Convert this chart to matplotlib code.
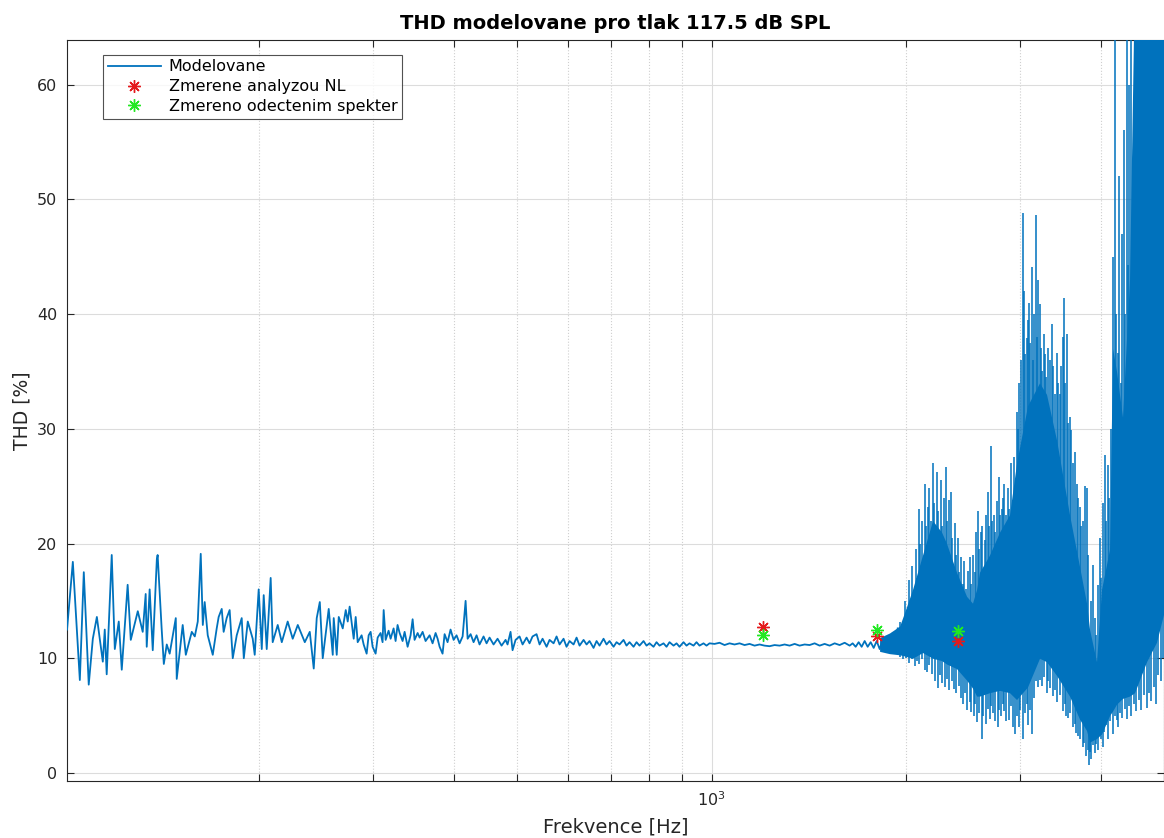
import numpy as np
import matplotlib
matplotlib.use('Agg')
import matplotlib.pyplot as plt
from matplotlib.ticker import NullFormatter, LogLocator

# modelovany prubeh THD, nizke a stredni frekvence
freq = [101.0, 103.1, 105.7, 107.2, 109.1, 110.7, 112.3, 114.7, 115.5, 116.3,
        118.4, 119.7, 121.4, 122.7, 125.3, 126.7, 129.9, 132.2, 133.6, 134.1,
        135.5, 137.0, 139.0, 139.4, 141.4, 142.5, 144.0, 145.5, 148.7, 149.2,
        152.4, 154.1, 157.4, 159.1, 160.8, 162.5, 163.7, 164.8, 166.6, 169.6,
        172.0, 173.2, 175.1, 176.3, 178.2, 180.1, 182.1, 184.7, 188.0, 189.4,
        192.1, 195.5, 196.9, 199.7, 201.9, 203.3, 205.5, 208.4, 209.9, 213.7,
        216.8, 221.4, 225.4, 229.5, 235.3, 239.5, 242.9, 245.5, 248.2, 250.8,
        254.4, 256.2, 259.9, 260.8, 263.6, 265.5, 269.3, 272.2, 274.1, 276.0,
        280.0, 282.0, 284.0, 288.0, 290.1, 293.2, 295.3, 297.4, 299.5, 302.7,
        304.9, 308.1, 310.3, 311.5, 313.7, 317.0, 319.3, 322.7, 325.0, 327.3,
        329.7, 333.2, 335.6, 339.2, 342.8, 345.3, 347.7, 351.5, 354.0, 357.8,
        361.6, 366.8, 370.7, 374.7, 377.4, 380.1, 384.1, 386.9, 391.0, 395.2,
        399.5, 403.7, 408.1, 412.5, 416.9, 419.9, 424.4, 428.9, 433.5, 438.1,
        444.4, 449.2, 454.0, 460.5, 467.1, 473.8, 480.6, 484.0, 489.2, 492.7,
        498.0, 505.1, 510.6, 517.9, 523.4, 529.0, 536.6, 542.4, 548.2, 556.1,
        562.0, 570.1, 576.2, 582.4, 590.7, 597.0, 603.4, 612.1, 618.7, 625.3,
        634.3, 641.1, 647.9, 657.2, 664.3, 671.4, 681.0, 688.3, 695.7, 705.7,
        713.2, 720.9, 731.2, 739.0, 747.0, 757.7, 765.8, 774.0, 785.1, 793.5,
        802.0, 813.5, 822.2, 831.1, 843.0, 852.0, 861.1, 873.5, 882.9, 892.3,
        905.1, 914.8, 924.6, 937.9, 947.9, 958.1, 971.8, 982.3, 992.8, 1010.7,
        1028.9, 1047.3, 1066.1, 1085.2, 1104.8, 1124.6, 1144.8, 1165.3, 1186.3, 1207.5,
        1229.3, 1251.3, 1273.9, 1296.7, 1320.0, 1343.8, 1367.8, 1392.4, 1417.4, 1442.8,
        1468.8, 1495.1, 1522.0, 1549.3, 1577.1, 1605.5, 1634.3, 1651.9, 1669.6, 1687.5,
        1705.6, 1723.9, 1742.5, 1761.2, 1780.2, 1799.3, 1818.6, 1838.2, 1857.9, 1871.2,
        1891.3, 1904.8, 1925.3, 1939.1]
thd = [12.5, 18.4, 8.1, 17.5, 7.7, 11.7, 13.6, 9.7, 12.5, 8.6,
       19.0, 10.8, 13.2, 9.0, 16.4, 11.6, 14.1, 12.3, 15.6, 11.0,
       16.0, 10.7, 18.6, 19.0, 12.6, 9.5, 11.2, 10.4, 13.5, 8.2,
       12.9, 10.3, 12.3, 11.9, 13.2, 19.1, 12.9, 14.9, 12.0, 10.3,
       12.6, 13.6, 14.3, 12.3, 13.5, 14.2, 10.0, 12.0, 13.5, 10.0,
       13.2, 11.7, 10.3, 16.0, 10.8, 15.5, 10.8, 17.0, 11.4, 12.9,
       11.4, 13.2, 11.7, 12.9, 11.4, 12.3, 9.1, 13.5, 14.9, 10.0,
       12.9, 14.3, 10.3, 13.5, 10.3, 13.6, 12.6, 14.2, 13.2, 14.5,
       11.7, 13.6, 11.4, 12.0, 11.2, 10.4, 12.0, 12.3, 11.0, 10.4,
       11.8, 12.2, 11.4, 14.2, 11.6, 12.4, 11.7, 12.6, 11.5, 12.9,
       12.2, 11.5, 12.3, 11.0, 12.0, 13.4, 11.6, 12.2, 11.8, 12.3,
       11.5, 12.0, 11.3, 12.2, 11.7, 11.0, 10.4, 12.1, 11.4, 12.5,
       11.6, 12.0, 11.3, 11.9, 15.0, 11.7, 12.1, 11.4, 12.0, 11.2,
       11.9, 11.3, 11.8, 11.2, 11.7, 11.1, 11.6, 11.2, 12.3, 10.7,
       11.6, 11.9, 11.2, 11.8, 11.3, 11.9, 12.1, 11.2, 11.7, 11.0,
       11.6, 11.3, 11.9, 11.2, 11.7, 11.0, 11.5, 11.2, 11.8, 11.1,
       11.6, 11.2, 11.5, 10.9, 11.5, 11.1, 11.7, 11.2, 11.5, 11.0,
       11.4, 11.2, 11.6, 11.1, 11.4, 11.0, 11.4, 11.1, 11.5, 11.1,
       11.3, 11.0, 11.4, 11.1, 11.3, 11.0, 11.4, 11.1, 11.3, 11.0,
       11.4, 11.1, 11.3, 11.1, 11.4, 11.1, 11.3, 11.1, 11.3, 11.25,
       11.35, 11.15, 11.3, 11.2, 11.3, 11.15, 11.25, 11.1, 11.2, 11.1,
       11.05, 11.15, 11.1, 11.2, 11.1, 11.25, 11.1, 11.2, 11.15, 11.3,
       11.1, 11.25, 11.1, 11.3, 11.15, 11.35, 11.1, 11.3, 11.0, 11.4,
       11.0, 11.5, 11.0, 11.4, 10.9, 11.5, 10.8, 11.6, 10.8, 11.9,
       10.6, 12.2, 10.5, 12.6]

# husta oblast nad 1.8 kHz - obalka plne casti
core_f = [1818, 1883, 1952, 1987, 2044, 2118, 2195, 2266, 2307, 2390,
          2477, 2530, 2567, 2594, 2688, 2786, 2886, 2959, 3077, 3211,
          3292, 3412, 3573, 3702, 3796, 3837, 3933, 4004, 4119, 4164,
          4223, 4314, 4423, 4503, 4699, 4869, 5000]
core_lo = [10.6, 10.4, 10.3, 10.2, 10.0, 10.5, 10.0, 9.8, 9.5, 9.1,
           8.1, 7.4, 6.7, 6.7, 7.0, 7.2, 7.0, 6.4, 7.5, 10.0,
           9.7, 8.5, 6.7, 4.7, 3.7, 2.7, 3.0, 3.4, 5.0, 5.4,
           6.0, 6.5, 6.7, 7.0, 9.7, 11.4, 14.0]
core_hi = [11.8, 12.2, 12.8, 14.0, 16.0, 19.0, 22.0, 21.0, 20.0, 17.5,
           15.4, 14.8, 16.0, 17.5, 19.0, 21.0, 22.5, 27.0, 32.0, 34.0,
           33.0, 29.0, 22.5, 18.0, 14.8, 12.5, 9.7, 16.0, 19.5, 37.0,
           35.0, 31.0, 43.0, 70, 70, 70, 70]

# spicky nahoru
up_f = [1952, 1975, 1990, 2005, 2020, 2037, 2050, 2066, 2080, 2088,
        2100, 2115, 2133, 2145, 2156, 2170, 2182, 2195, 2210, 2226,
        2240, 2258, 2270, 2285, 2299, 2312, 2326, 2340, 2355, 2374,
        2385, 2399, 2415, 2430, 2445, 2459, 2475, 2490, 2504, 2520,
        2535, 2550, 2562, 2576, 2590, 2605, 2620, 2641, 2655, 2670,
        2685, 2698, 2712, 2730, 2745, 2756, 2776, 2790, 2805, 2820,
        2835, 2850, 2866, 2880, 2900, 2917, 2935, 2959, 2975, 2990,
        3008, 3023, 3040, 3052, 3066, 3080, 3095, 3108, 3121, 3140,
        3153, 3166, 3180, 3195, 3211, 3225, 3240, 3257, 3275, 3290,
        3310, 3330, 3351, 3370, 3390, 3412, 3430, 3450, 3470, 3485,
        3498, 3515, 3535, 3555, 3575, 3597, 3620, 3640, 3663, 3685,
        3702, 3725, 3745, 3770, 3796, 3820, 3850, 3878, 3905, 3925,
        3947, 3975, 4000, 4018, 4047, 4070, 4090, 4110, 4140, 4164,
        4193, 4215, 4238, 4260, 4285, 4310, 4330, 4350, 4376, 4392,
        4420, 4454]
up_y = [13.2, 12.6, 15.0, 13.8, 16.8, 18.0, 15.5, 19.5, 17.0, 23.0,
        20.0, 22.0, 25.2, 21.5, 23.2, 24.8, 22.0, 27.0, 23.5, 26.2,
        22.8, 25.5, 21.5, 24.0, 26.7, 22.0, 23.8, 24.5, 20.5, 21.8,
        19.0, 20.5, 17.5, 18.8, 16.5, 18.5, 16.0, 17.6, 18.8, 16.5,
        19.0, 17.5, 21.0, 22.8, 19.5, 21.0, 21.5, 20.3, 22.5, 24.5,
        21.5, 28.5, 22.0, 22.5, 21.0, 23.7, 25.8, 22.5, 23.0, 24.0,
        25.2, 22.5, 24.8, 23.0, 27.0, 23.8, 27.5, 31.5, 30.0, 34.0,
        36.0, 48.8, 42.0, 36.5, 37.9, 39.5, 41.0, 37.5, 44.1, 36.0,
        40.0, 48.6, 38.0, 43.0, 40.9, 37.0, 35.0, 38.3, 36.5, 34.5,
        37.0, 36.0, 39.1, 35.5, 33.0, 36.6, 34.0, 33.0, 35.5, 38.0,
        41.4, 34.0, 38.3, 30.5, 31.0, 29.9, 27.0, 28.0, 25.2, 24.0,
        23.2, 21.5, 22.0, 25.0, 24.8, 19.0, 15.0, 18.1, 13.5, 12.0,
        16.4, 20.5, 17.0, 23.5, 27.7, 22.0, 26.8, 24.0, 30.0, 45.0,
        70, 40.0, 36.6, 52.0, 34.0, 47.0, 56.0, 40.0, 70, 44.3,
        60.0, 70]

# spicky dolu
dn_f = [1952, 1975, 2000, 2022, 2040, 2060, 2080, 2095, 2115, 2135,
        2150, 2170, 2190, 2211, 2234, 2250, 2270, 2291, 2310, 2330,
        2350, 2370, 2390, 2410, 2425, 2442, 2460, 2480, 2504, 2520,
        2540, 2553, 2567, 2590, 2613, 2630, 2650, 2670, 2688, 2705,
        2720, 2740, 2766, 2785, 2800, 2820, 2835, 2855, 2880, 2900,
        2920, 2938, 2960, 2980, 3000, 3023, 3045, 3066, 3080, 3100,
        3121, 3145, 3170, 3190, 3211, 3235, 3260, 3292, 3310, 3330,
        3363, 3390, 3420, 3450, 3485, 3510, 3530, 3550, 3575, 3611,
        3640, 3660, 3680, 3710, 3742, 3765, 3790, 3810, 3823, 3845,
        3860, 3880, 3905, 3930, 3960, 3990, 4018, 4045, 4070, 4100,
        4130, 4164, 4200, 4230, 4250, 4280, 4310, 4345, 4376, 4410,
        4450, 4490, 4534, 4570, 4600, 4650, 4699, 4740, 4780, 4820,
        4852, 4900, 4950, 4990]
dn_y = [10.1, 9.9, 10.0, 9.6, 9.9, 9.3, 9.8, 9.5, 9.9, 9.0,
        8.8, 9.4, 8.6, 8.0, 7.4, 8.5, 7.8, 7.5, 8.2, 7.2,
        8.0, 7.3, 7.0, 7.6, 6.5, 6.0, 7.0, 5.5, 6.2, 5.3,
        5.0, 6.0, 4.4, 5.2, 3.0, 5.0, 4.3, 5.6, 4.7, 5.8,
        5.2, 4.5, 4.0, 5.5, 5.0, 6.0, 5.4, 4.5, 4.6, 5.8,
        4.0, 3.4, 5.0, 4.0, 5.5, 3.0, 5.2, 6.0, 4.2, 5.5,
        3.4, 6.5, 8.0, 7.5, 8.1, 7.6, 8.4, 7.0, 8.0, 7.4,
        6.7, 7.2, 6.2, 6.8, 5.4, 6.0, 5.0, 4.8, 5.2, 4.0,
        4.3, 3.5, 3.2, 3.0, 2.3, 2.6, 1.5, 2.0, 0.7, 1.8,
        1.2, 2.4, 1.7, 2.5, 2.0, 3.0, 2.3, 3.6, 4.2, 3.0,
        4.5, 3.4, 5.0, 4.6, 4.0, 5.2, 4.8, 5.6, 4.7, 5.8,
        5.0, 6.0, 5.4, 6.4, 5.5, 6.8, 5.7, 7.0, 6.3, 7.5,
        6.0, 8.5, 8.0, 10.0]

# merene body
meas_f = [1200, 1800, 2400]
nl_thd = [12.7, 11.9, 11.5]
spec_thd = [12.05, 12.5, 12.4]

blue = '#0072BD'

plt.rcParams['font.family'] = ['DejaVu Sans']
fig = plt.figure(figsize=(11.64, 8.38), dpi=100)
ax = fig.add_axes([0.0576, 0.068, 0.9424, 0.8845])

ax.plot(freq, thd, color=blue, lw=1.3, label='Modelovane', zorder=3)
ax.fill_between(core_f, core_lo, core_hi, color=blue, lw=0, zorder=3)

lf = np.log10(core_f)
core_mid = (np.array(core_lo) + np.array(core_hi)) / 2
up_base = np.interp(np.log10(up_f), lf, core_mid)
dn_base = np.interp(np.log10(dn_f), lf, core_mid)
ax.vlines(up_f, up_base, up_y, color=blue, lw=1.35, alpha=0.82, zorder=2.9)
ax.vlines(dn_f, dn_y, dn_base, color=blue, lw=1.35, alpha=0.82, zorder=2.9)

ast = (8, 2, 0)
ax.plot(meas_f, nl_thd, ls='none', marker=ast, ms=9, mew=1.0, color='#e41a1c',
        label='Zmerene analyzou NL', zorder=5)
ax.plot(meas_f, spec_thd, ls='none', marker=ast, ms=9, mew=1.0, color='#22e822',
        label='Zmereno odectenim spekter', zorder=5)

ax.set_xscale('log')
ax.set_xlim(101, 5000)
ax.set_ylim(-0.7, 63.9)
ax.set_yticks([0, 10, 20, 30, 40, 50, 60])
ax.xaxis.set_minor_locator(LogLocator(base=10, subs=np.arange(2, 10)))
ax.xaxis.set_minor_formatter(NullFormatter())

ax.grid(True, which='major', axis='both', color='#dcdcdc', lw=0.8, ls='-')
ax.grid(True, which='minor', axis='x', color='#cfcfcf', lw=0.8, ls=':')
ax.set_axisbelow(True)

ax.tick_params(which='both', direction='in', top=True, right=True,
               length=5, width=0.8, colors='#262626', labelsize=11.5, pad=7)
for s in ax.spines.values():
    s.set_color('#262626')
    s.set_linewidth(0.8)

ax.set_title('THD modelovane pro tlak 117.5 dB SPL', fontsize=14,
             fontweight='bold', color='black', pad=8)
ax.set_xlabel('Frekvence [Hz]', fontsize=14, color='#262626', labelpad=6)
ax.set_ylabel('THD [%]', fontsize=13.5, color='#262626', labelpad=4)

leg = ax.legend(loc='upper left', bbox_to_anchor=(0.033, 0.98), borderaxespad=0,
                fontsize=11.5, frameon=True, fancybox=False, edgecolor='#262626',
                handlelength=3.3, labelspacing=0.3, borderpad=0.3, handletextpad=0.5)
leg.get_frame().set_linewidth(0.8)

fig.savefig('out.png', dpi=100, facecolor='white')
